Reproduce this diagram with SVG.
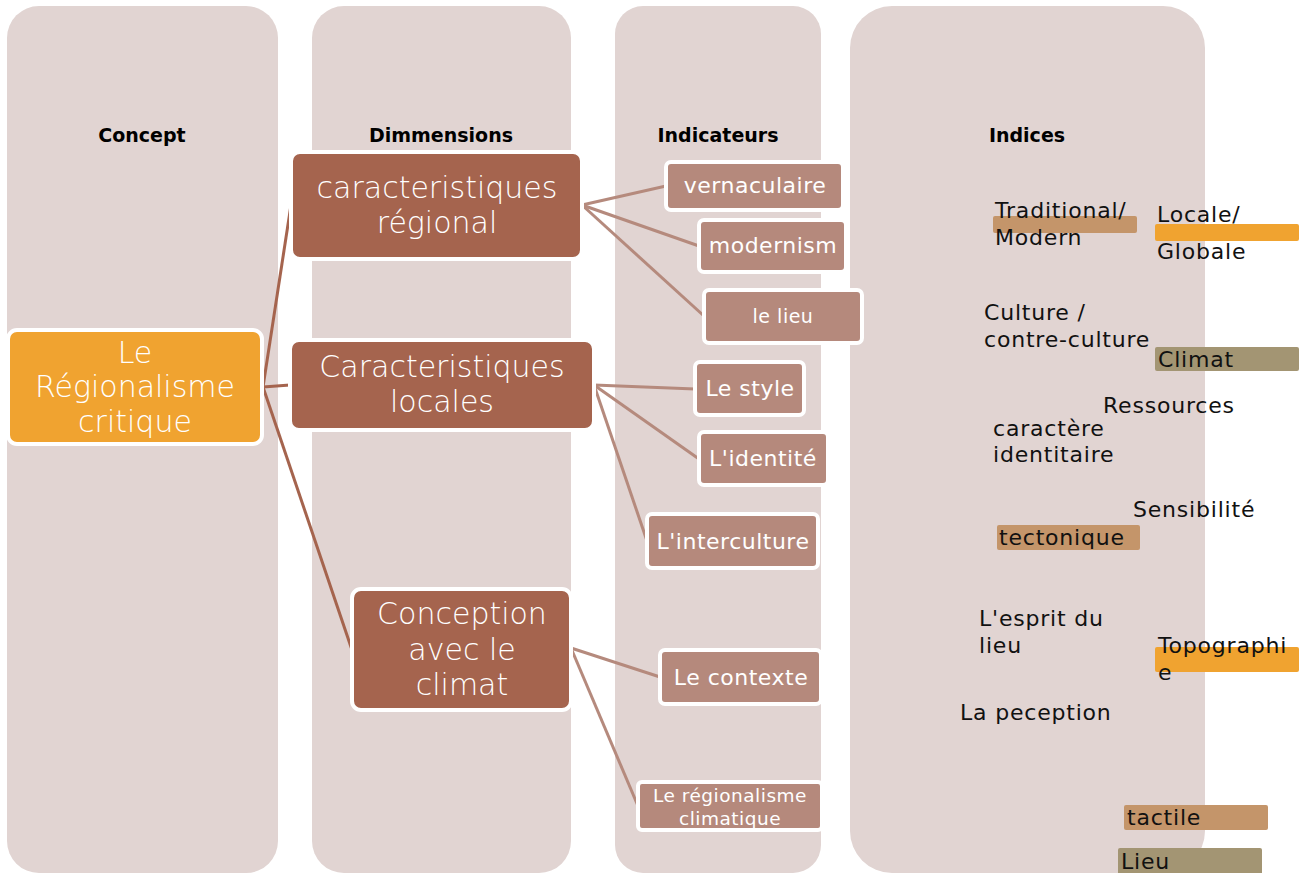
<svg xmlns="http://www.w3.org/2000/svg" width="1306" height="873" viewBox="0 0 1306 873">
<style>
.col{fill:#E1D4D2}
.hdr{font-family:"DejaVu Sans",sans-serif;font-weight:bold;font-size:19px;fill:#000;text-anchor:middle}
.concept{fill:#F0A330;stroke:#fff;stroke-width:4}
.dim{fill:#A5644E;stroke:#fff;stroke-width:4}
.ind{fill:#B5897C;stroke:#fff;stroke-width:4}
.big{font-family:"DejaVu Sans",sans-serif;font-size:30px;fill:#fff;text-anchor:middle;font-weight:200}
.mid{font-family:"DejaVu Sans",sans-serif;font-size:22px;fill:#fff;text-anchor:middle;letter-spacing:0.5px}
.idx{font-family:"DejaVu Sans",sans-serif;font-size:22px;fill:#111;letter-spacing:0.8px}
.c1{stroke:#A5644E;stroke-width:3;fill:none}
.c2{stroke:#B58A7D;stroke-width:3;fill:none}
.tan{fill:#C4956A}
.org{fill:#F0A330}
.olv{fill:#A39573}
</style>
<g id="columns">
<rect class="col" x="7" y="6" width="271" height="867" rx="32"/>
<rect class="col" x="312" y="6" width="259" height="867" rx="32"/>
<rect class="col" x="615" y="6" width="206" height="867" rx="28"/>
<rect class="col" x="850" y="6" width="355" height="867" rx="42"/>
<text class="hdr" x="142" y="142">Concept</text>
<text class="hdr" x="441" y="142">Dimmensions</text>
<text class="hdr" x="718" y="142">Indicateurs</text>
<text class="hdr" x="1027" y="142">Indices</text>
</g>
<g id="connectors">
<line class="c1" x1="263" y1="387" x2="291" y2="205"/>
<line class="c1" x1="263" y1="387" x2="290" y2="385"/>
<line class="c1" x1="263" y1="387" x2="352" y2="650"/>
<line class="c2" x1="582" y1="205" x2="666" y2="186"/>
<line class="c2" x1="582" y1="205" x2="699" y2="246"/>
<line class="c2" x1="582" y1="205" x2="704" y2="316"/>
<line class="c2" x1="594" y1="385" x2="695" y2="389"/>
<line class="c2" x1="594" y1="385" x2="699" y2="459"/>
<line class="c2" x1="594" y1="385" x2="647" y2="541"/>
<line class="c2" x1="571" y1="648" x2="660" y2="677"/>
<line class="c2" x1="571" y1="648" x2="638" y2="806"/>
</g>
<g id="n-concept">
<rect class="concept" x="8" y="330" width="254" height="114" rx="9"/>
<text class="big" x="135" y="363">Le</text>
<text class="big" x="135" y="397">Régionalisme</text>
<text class="big" x="135" y="432">critique</text>
</g>
<g id="n-dim1">
<rect class="dim" x="291" y="152" width="291" height="107" rx="9"/>
<text class="big" x="437" y="198">caracteristiques</text>
<text class="big" x="437" y="233">régional</text>
</g>
<g id="n-dim2">
<rect class="dim" x="290" y="340" width="304" height="90" rx="9"/>
<text class="big" x="442" y="377">Caracteristiques</text>
<text class="big" x="442" y="412">locales</text>
</g>
<g id="n-dim3">
<rect class="dim" x="352" y="589" width="219" height="121" rx="9"/>
<text class="big" x="462" y="624">Conception</text>
<text class="big" x="462" y="660">avec le</text>
<text class="big" x="462" y="695">climat</text>
</g>
<g id="n-vernaculaire">
<rect class="ind" x="666" y="162" width="177" height="48" rx="5"/>
<text class="mid" x="755" y="193">vernaculaire</text>
</g>
<g id="n-modernism">
<rect class="ind" x="699" y="220" width="147" height="52" rx="5"/>
<text class="mid" x="773" y="253">modernism</text>
</g>
<g id="n-lelieu">
<rect class="ind" x="704" y="290" width="158" height="53" rx="5"/>
<text class="mid" x="783" y="323" style="font-size:19px">le lieu</text>
</g>
<g id="n-style">
<rect class="ind" x="695" y="362" width="109" height="53" rx="5"/>
<text class="mid" x="750" y="396">Le style</text>
</g>
<g id="n-identite">
<rect class="ind" x="699" y="432" width="129" height="53" rx="5"/>
<text class="mid" x="763" y="466">L'identité</text>
</g>
<g id="n-interculture">
<rect class="ind" x="647" y="514" width="171" height="54" rx="5"/>
<text class="mid" x="733" y="549">L'interculture</text>
</g>
<g id="n-contexte">
<rect class="ind" x="660" y="650" width="161" height="54" rx="5"/>
<text class="mid" x="741" y="685">Le contexte</text>
</g>
<g id="n-climatique">
<rect class="ind" x="638" y="782" width="184" height="48" rx="4"/>
<text class="mid" x="730" y="802" style="font-size:18.5px">Le régionalisme</text>
<text class="mid" x="730" y="825" style="font-size:18.5px">climatique</text>
</g>
<g id="i-tradmod">
<rect class="tan" x="993" y="216" width="144" height="17" rx="2"/>
<text class="idx" x="995" y="218">Traditional/</text>
<text class="idx" x="995" y="245">Modern</text>
</g>
<g id="i-locglob">
<rect class="org" x="1155" y="224" width="144" height="17" rx="2"/>
<text class="idx" x="1157" y="222">Locale/</text>
<text class="idx" x="1157" y="259">Globale</text>
</g>
<g id="i-culture">
<text class="idx" x="984" y="320">Culture /</text>
<text class="idx" x="984" y="347">contre-culture</text>
</g>
<g id="i-climat">
<rect class="olv" x="1155" y="347" width="144" height="24" rx="2"/>
<text class="idx" x="1158" y="367">Climat</text>
</g>
<g id="i-ressources">
<text class="idx" x="1103" y="413">Ressources</text>
</g>
<g id="i-caractere">
<text class="idx" x="993" y="436">caractère</text>
<text class="idx" x="993" y="462">identitaire</text>
</g>
<g id="i-sensibilite">
<text class="idx" x="1133" y="517">Sensibilité</text>
</g>
<g id="i-tectonique">
<rect class="tan" x="997" y="525" width="143" height="25" rx="2"/>
<text class="idx" x="999" y="545">tectonique</text>
</g>
<g id="i-esprit">
<text class="idx" x="979" y="626">L'esprit du</text>
<text class="idx" x="979" y="653">lieu</text>
</g>
<g id="i-topographie">
<rect class="org" x="1155" y="647" width="144" height="25" rx="2"/>
<text class="idx" x="1158" y="653">Topographi</text>
<text class="idx" x="1158" y="680">e</text>
</g>
<g id="i-perception">
<text class="idx" x="960" y="720">La peception</text>
</g>
<g id="i-tactile">
<rect class="tan" x="1124" y="805" width="144" height="25" rx="2"/>
<text class="idx" x="1127" y="825">tactile</text>
</g>
<g id="i-lieu">
<rect class="olv" x="1118" y="848" width="144" height="30" rx="2"/>
<text class="idx" x="1121" y="869">Lieu</text>
</g>
</svg>
